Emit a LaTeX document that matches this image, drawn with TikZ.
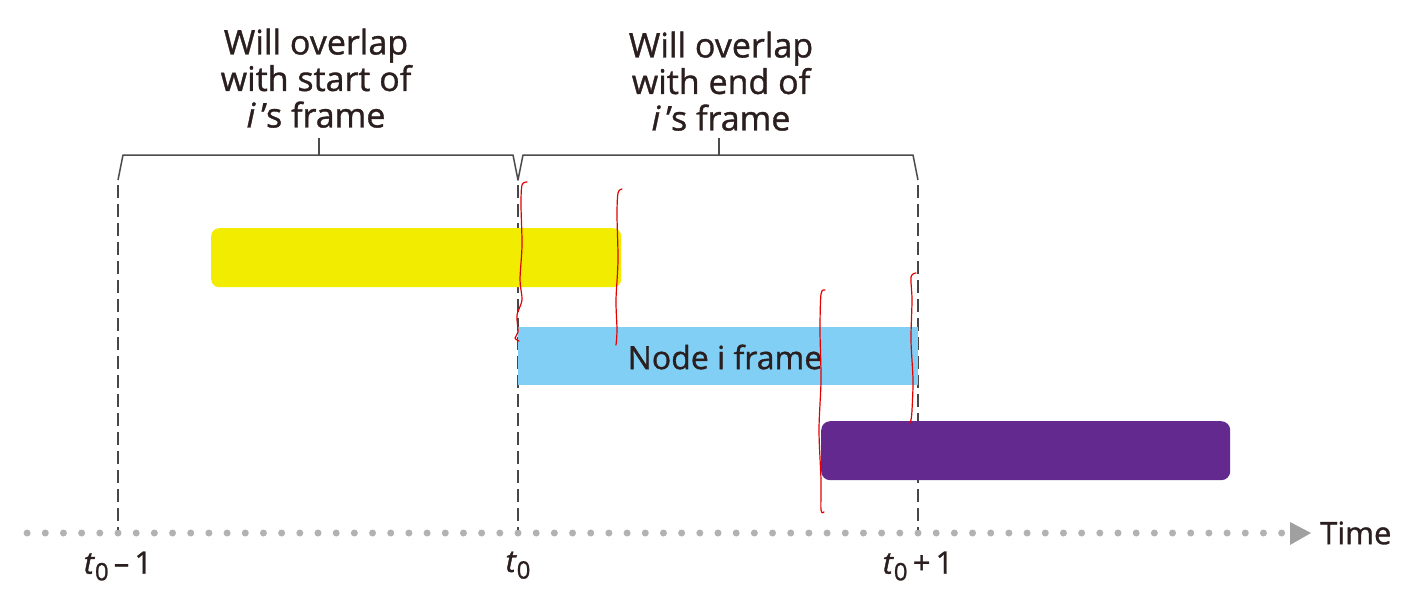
\documentclass[tikz,border=0pt]{standalone}
\usepackage{fontspec}
\setmainfont{Open Sans}[UprightFeatures={FakeBold=1}, ItalicFeatures={FakeBold=1}]

\newcommand*{\tprev}{118}
\newcommand*{\tzero}{518}
\newcommand*{\tnext}{918}
\newcommand*{\axisy}{533}

\definecolor{inkdark}{HTML}{2A1E1E}
\definecolor{dotgray}{HTML}{B2B2B2}
\definecolor{bargold}{HTML}{F2EC00}
\definecolor{barsky}{HTML}{82CFF5}
\definecolor{barplum}{HTML}{63298F}

\begin{document}
\begin{tikzpicture}
[
	x=1pt, y=-1pt,
	bar/.style={inner sep=0pt, anchor=north west, minimum height=59pt},
	bracelabel/.style={align=center, anchor=south, inner sep=0pt, text=inkdark,
		font=\fontsize{34}{36.5}\selectfont},
	bracepath/.style={draw=black!70, line width=1.5pt, line join=round},
	tickline/.style={draw=black!72, line width=2pt, dash pattern=on 13pt off 6pt},
	redmark/.style={draw=red!90!black, line width=1.2pt, line cap=round},
	ticklabel/.style={anchor=north, text=inkdark, font=\fontsize{31}{31}\selectfont}
]
	\useasboundingbox (0,0) rectangle (1418,591);

	% time axis
	\foreach \k in {-5,...,64}
		\fill[dotgray] ({\tprev+\k*18.1818},\axisy) circle (3.5pt);
	\fill[dotgray!90!black] (1290,522) -- (1311,\axisy) -- (1290,545) -- cycle;
	\node[anchor=west, inner sep=0pt, text=inkdark, font=\fontsize{31}{31}\selectfont] (time) at (1320,\axisy) {Time};

	% dashed ticks
	\foreach \t/\name in {\tprev/prev, \tzero/zero, \tnext/next} {
		\coordinate (\name top) at (\t,185);
		\coordinate (\name bot) at (\t,530);
		\draw[tickline] (\name top) -- (\name bot);
	}
	\node[ticklabel] (lprev) at (\tprev,548) {\textit{t}\raisebox{-0.4ex}{\fontsize{24}{24}\selectfont 0}\,\textendash\,1};
	\node[ticklabel] (lzero) at (\tzero,548) {\textit{t}\raisebox{-0.4ex}{\fontsize{24}{24}\selectfont 0}};
	\node[ticklabel] (lnext) at (\tnext,548) {\textit{t}\raisebox{-0.4ex}{\fontsize{24}{24}\selectfont 0}\,+\,1};

	% braces
	\draw[bracepath] (\tprev,180) -- (123,155) -- (513,155) -- (\tzero,180) -- (523,155) -- (913,155) -- (\tnext,180);
	\draw[bracepath] (319,155) -- (319,138) coordinate (tipA);
	\draw[bracepath] (719,155) -- (719,138) coordinate (tipB);
	\node[bracelabel] (startlabel) at (316,128) {Will overlap\\with start of\\\textit{i}\,’s frame};
	\node[bracelabel] (endlabel) at (721,131) {Will overlap\\with end of\\\textit{i}\,’s frame};

	% frames
	\node[bar, fill=bargold, rounded corners=8pt, minimum width=410pt] (early) at (211,228) {};
	\node[bar, fill=barsky, minimum width=400pt, minimum height=58pt] (framei) at (\tzero,327) {};
	\node[text=inkdark, font=\fontsize{32}{32}\selectfont, inner sep=0pt] (framelabel) at (725,357) {Node i frame};
	\node[bar, fill=barplum, rounded corners=9pt, minimum width=409pt] (late) at (821,421) {};

	% red marks
	\draw[redmark] plot[smooth] coordinates {(527,182) (522,185) (521,205) (522,245) (520,280) (522,300) (517,315) (518,332) (515,338) (519,341)};
	\draw[redmark] plot[smooth] coordinates {(622,189) (618,193) (617,215) (618,260) (616,300) (617,330) (616,345)};
	\draw[redmark] plot[smooth] coordinates {(825,290) (821,294) (820,330) (821,380) (819,430) (821,480) (821,510) (824,512)};
	\draw[redmark] plot[smooth] coordinates {(916,273) (911,277) (912,300) (911,340) (913,380) (912,410) (911,420) (909,424)};
\end{tikzpicture}
\end{document}
